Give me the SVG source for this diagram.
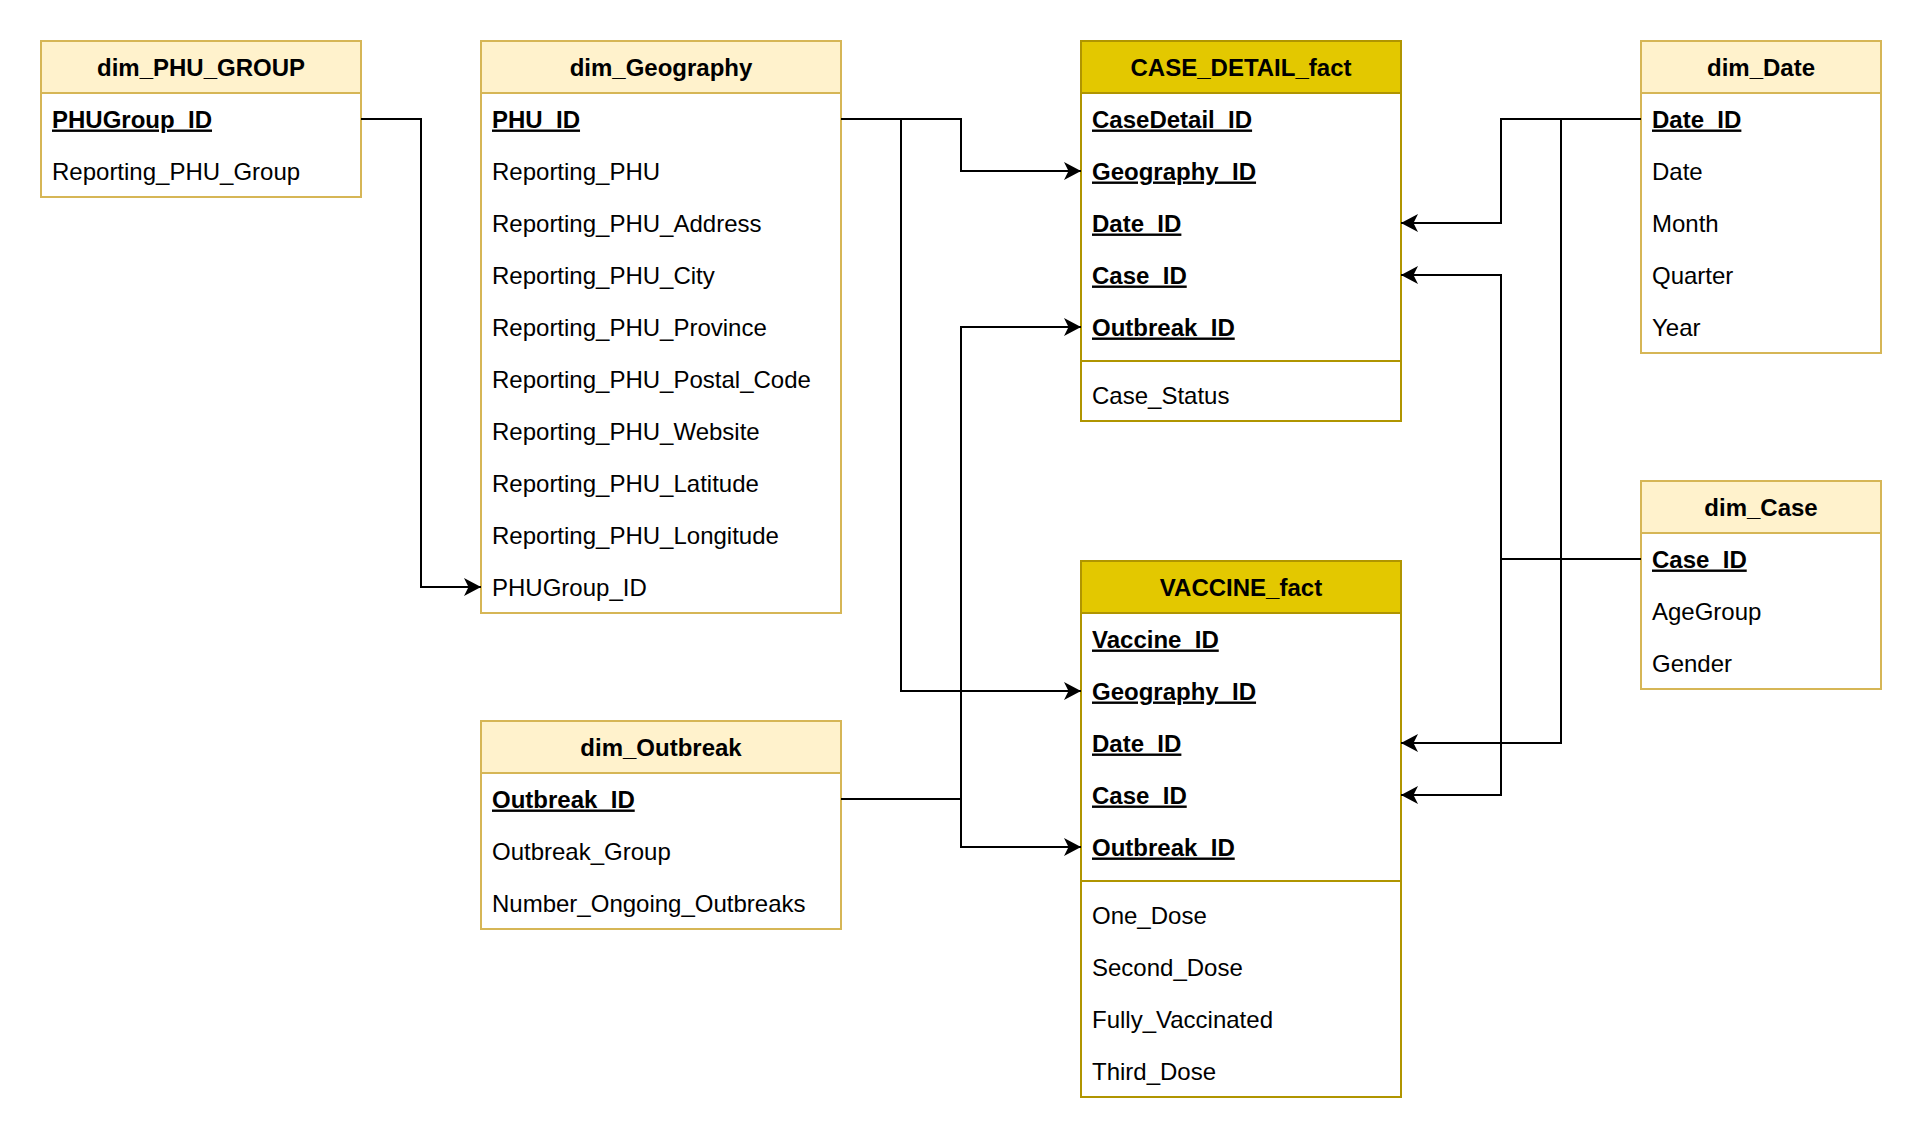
<svg xmlns="http://www.w3.org/2000/svg" width="1924" height="1144" viewBox="0 0 1924 1144">
<style>
  .box{fill:#ffffff;stroke-width:2}
  .dim .box,.dim .hdr{stroke:#d6b656}
  .dim .hdr{fill:#fff2cc;stroke-width:2}
  .fact .box,.fact .hdr,.fact .sep{stroke:#b09500}
  .fact .hdr{fill:#e3c800;stroke-width:2}
  .sep{stroke-width:2;fill:none}
  text{font-family:"Liberation Sans",Arial,sans-serif;font-size:24px;fill:#000}
  .h{font-weight:bold;text-anchor:middle}
  .k{font-weight:bold;text-decoration:underline;text-underline-offset:1.5px;text-decoration-thickness:1.5px}
  .conn path{fill:none;stroke:#000;stroke-width:2}
</style>
<defs>
  <marker id="arr" viewBox="-18 -10 20 20" refX="0" refY="0" markerWidth="20" markerHeight="20" markerUnits="userSpaceOnUse" orient="auto">
    <path d="M0,0 L-17,-9 L-12.5,0 L-17,9 Z" fill="#000"/>
  </marker>
</defs>
<rect width="1924" height="1144" fill="#ffffff"/>

<g id="dim_PHU_GROUP" class="dim">
  <rect class="box" x="41" y="41" width="320" height="156"/>
  <rect class="hdr" x="41" y="41" width="320" height="52"/>
  <text class="h" x="201" y="75.5">dim_PHU_GROUP</text>
  <text class="k" x="52" y="127.5">PHUGroup_ID</text>
  <text x="52" y="179.5">Reporting_PHU_Group</text>
</g>

<g id="dim_Geography" class="dim">
  <rect class="box" x="481" y="41" width="360" height="572"/>
  <rect class="hdr" x="481" y="41" width="360" height="52"/>
  <text class="h" x="661" y="75.5">dim_Geography</text>
  <text class="k" x="492" y="127.5">PHU_ID</text>
  <text x="492" y="179.5">Reporting_PHU</text>
  <text x="492" y="231.5">Reporting_PHU_Address</text>
  <text x="492" y="283.5">Reporting_PHU_City</text>
  <text x="492" y="335.5">Reporting_PHU_Province</text>
  <text x="492" y="387.5">Reporting_PHU_Postal_Code</text>
  <text x="492" y="439.5">Reporting_PHU_Website</text>
  <text x="492" y="491.5">Reporting_PHU_Latitude</text>
  <text x="492" y="543.5">Reporting_PHU_Longitude</text>
  <text x="492" y="595.5">PHUGroup_ID</text>
</g>

<g id="CASE_DETAIL_fact" class="fact">
  <rect class="box" x="1081" y="41" width="320" height="380"/>
  <rect class="hdr" x="1081" y="41" width="320" height="52"/>
  <text class="h" x="1241" y="75.5">CASE_DETAIL_fact</text>
  <text class="k" x="1092" y="127.5">CaseDetail_ID</text>
  <text class="k" x="1092" y="179.5">Geography_ID</text>
  <text class="k" x="1092" y="231.5">Date_ID</text>
  <text class="k" x="1092" y="283.5">Case_ID</text>
  <text class="k" x="1092" y="335.5">Outbreak_ID</text>
  <line class="sep" x1="1081" y1="361" x2="1401" y2="361"/>
  <text x="1092" y="403.5">Case_Status</text>
</g>

<g id="dim_Date" class="dim">
  <rect class="box" x="1641" y="41" width="240" height="312"/>
  <rect class="hdr" x="1641" y="41" width="240" height="52"/>
  <text class="h" x="1761" y="75.5">dim_Date</text>
  <text class="k" x="1652" y="127.5">Date_ID</text>
  <text x="1652" y="179.5">Date</text>
  <text x="1652" y="231.5">Month</text>
  <text x="1652" y="283.5">Quarter</text>
  <text x="1652" y="335.5">Year</text>
</g>

<g id="dim_Case" class="dim">
  <rect class="box" x="1641" y="481" width="240" height="208"/>
  <rect class="hdr" x="1641" y="481" width="240" height="52"/>
  <text class="h" x="1761" y="515.5">dim_Case</text>
  <text class="k" x="1652" y="567.5">Case_ID</text>
  <text x="1652" y="619.5">AgeGroup</text>
  <text x="1652" y="671.5">Gender</text>
</g>

<g id="VACCINE_fact" class="fact">
  <rect class="box" x="1081" y="561" width="320" height="536"/>
  <rect class="hdr" x="1081" y="561" width="320" height="52"/>
  <text class="h" x="1241" y="595.5">VACCINE_fact</text>
  <text class="k" x="1092" y="647.5">Vaccine_ID</text>
  <text class="k" x="1092" y="699.5">Geography_ID</text>
  <text class="k" x="1092" y="751.5">Date_ID</text>
  <text class="k" x="1092" y="803.5">Case_ID</text>
  <text class="k" x="1092" y="855.5">Outbreak_ID</text>
  <line class="sep" x1="1081" y1="881" x2="1401" y2="881"/>
  <text x="1092" y="923.5">One_Dose</text>
  <text x="1092" y="975.5">Second_Dose</text>
  <text x="1092" y="1027.5">Fully_Vaccinated</text>
  <text x="1092" y="1079.5">Third_Dose</text>
</g>

<g id="dim_Outbreak" class="dim">
  <rect class="box" x="481" y="721" width="360" height="208"/>
  <rect class="hdr" x="481" y="721" width="360" height="52"/>
  <text class="h" x="661" y="755.5">dim_Outbreak</text>
  <text class="k" x="492" y="807.5">Outbreak_ID</text>
  <text x="492" y="859.5">Outbreak_Group</text>
  <text x="492" y="911.5">Number_Ongoing_Outbreaks</text>
</g>

<g id="connectors" class="conn">
  <path d="M361,119 H421 V587 H481" marker-end="url(#arr)"/>
  <path d="M841,119 H961 V171 H1081" marker-end="url(#arr)"/>
  <path d="M841,119 H901 V691 H1081" marker-end="url(#arr)"/>
  <path d="M841,799 H961 V327 H1081" marker-end="url(#arr)"/>
  <path d="M841,799 H961 V847 H1081" marker-end="url(#arr)"/>
  <path d="M1641,119 H1501 V223 H1401" marker-end="url(#arr)"/>
  <path d="M1641,119 H1561 V743 H1401" marker-end="url(#arr)"/>
  <path d="M1641,559 H1501 V275 H1401" marker-end="url(#arr)"/>
  <path d="M1641,559 H1501 V795 H1401" marker-end="url(#arr)"/>
</g>
</svg>
